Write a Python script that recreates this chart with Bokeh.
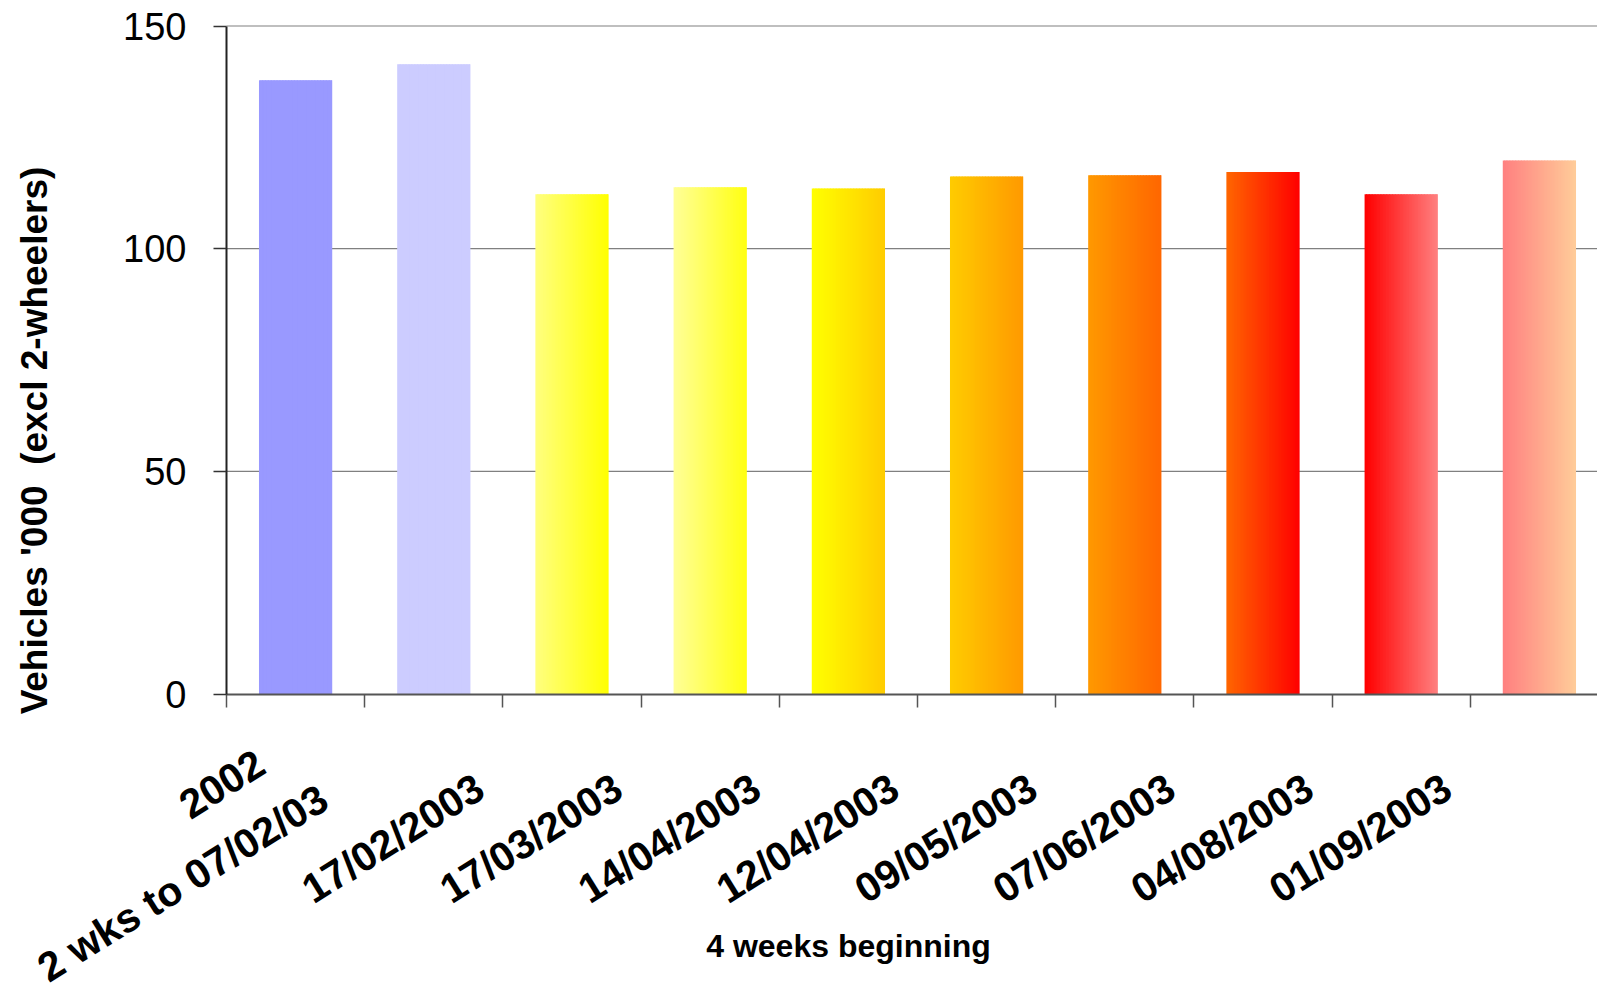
import math

from bokeh.core.properties import value
from bokeh.embed import file_html
from bokeh.models import ColumnDataSource, FixedTicker, LinearAxis, Range1d
from bokeh.plotting import figure
from bokeh.resources import INLINE

# ---- data -------------------------------------------------------------
categories = [
    "2002", "2 wks to 07/02/03", "17/02/2003", "17/03/2003", "14/04/2003",
    "12/04/2003", "09/05/2003", "07/06/2003", "04/08/2003", "01/09/2003",
]
vehicles = [137.8, 141.4, 112.2, 113.8, 113.5, 116.2, 116.5, 117.2, 112.2, 119.8]
y_ticks = [0, 50, 100, 150]

# ---- styling ----------------------------------------------------------
# horizontal gradient of each bar: colour at the left edge -> right edge
fill_left = ["#9999FF", "#CCCCFF", "#FFFF80", "#FFFF99", "#FFFF00",
             "#FFCC00", "#FF9900", "#FF6600", "#FF0000", "#FF8080"]
fill_right = ["#9999FF", "#CCCCFF", "#FFFF00", "#FFFF11", "#FFCC00",
              "#FF9900", "#FF6600", "#FF0000", "#FF8080", "#FFCC99"]
# screen offsets (px, right / down) of each rotated category label
label_dx = [-35, -110, -92, -92, -92, -92, -92, -92, -92, -92]
label_dy = [66, 101, 90, 90, 90, 90, 90, 90, 90, 90]

W, H = 1597, 993
PX_X = 138.2            # pixels per category
PX_Y = 668 / 150        # pixels per vehicle unit ('000)
ORIGIN = (226, 693.5)   # canvas position of the (0, 0) corner of the bars area
BAR_W = 0.53
STRIPS = 48
FONT = "Liberation Sans"


def hex_rgb(h):
    h = h.lstrip("#")
    return tuple(int(h[k:k + 2], 16) for k in (0, 2, 4))


def mix(c0, c1, t):
    a, b = hex_rgb(c0), hex_rgb(c1)
    return "#%02x%02x%02x" % tuple(round(a[k] + (b[k] - a[k]) * t) for k in range(3))


# thin vertical strips that build each bar's colour gradient
lefts, rights, tops, colors = [], [], [], []
for i, v in enumerate(vehicles):
    x0 = i + 0.5 - BAR_W / 2
    step = BAR_W / STRIPS
    for k in range(STRIPS):
        left = x0 + k * step
        right = min(left + step * 1.6, x0 + BAR_W)
        lefts.append(left)
        rights.append(right)
        tops.append(v)
        colors.append(mix(fill_left[i], fill_right[i], (k + 0.5) / STRIPS))

bars = ColumnDataSource(dict(left=lefts, right=rights, top=tops,
                             bottom=[0] * len(tops), color=colors))

# the frame covers the whole canvas; axes sit at fixed data locations
x_lo = -ORIGIN[0] / PX_X
y_lo = -(H - ORIGIN[1]) / PX_Y
p = figure(
    width=W, height=H,
    x_range=Range1d(x_lo, x_lo + W / PX_X),
    y_range=Range1d(y_lo, y_lo + H / PX_Y),
    output_backend="svg", toolbar_location=None,
    x_axis_location=None, y_axis_location=None,
    min_border=0,
)
p.outline_line_color = None
p.background_fill_color = "white"
p.border_fill_color = "white"
p.xgrid.visible = False
p.ygrid.visible = False

n = len(categories)

# horizontal gridlines
p.segment(x0=[0] * (len(y_ticks) - 1), x1=[n] * (len(y_ticks) - 1),
          y0=y_ticks[1:], y1=y_ticks[1:], line_color="#808080", line_width=1.2)

p.quad(left="left", right="right", top="top", bottom="bottom",
       fill_color="color", line_color=None, source=bars)

# value axis
yaxis = LinearAxis(fixed_location=0, bounds=(y_ticks[0], y_ticks[-1]))
yaxis.ticker = FixedTicker(ticks=y_ticks)
yaxis.minor_tick_line_color = None
yaxis.major_tick_in = 0
yaxis.major_tick_out = 13
yaxis.major_tick_line_color = "#333333"
yaxis.major_tick_line_width = 1.5
yaxis.axis_line_color = "#222222"
yaxis.axis_line_width = 2
yaxis.major_label_standoff = 27
yaxis.major_label_text_font = FONT
yaxis.major_label_text_font_size = "38px"
yaxis.major_label_text_color = "black"
p.add_layout(yaxis, "left")

# category axis: tick marks on the category boundaries, labels drawn separately
boundaries = list(range(n + 1))
xaxis = LinearAxis(fixed_location=0, bounds=(0, n))
xaxis.ticker = FixedTicker(ticks=boundaries)
xaxis.major_label_overrides = {b: "" for b in boundaries}
xaxis.minor_tick_line_color = None
xaxis.major_tick_in = 0
xaxis.major_tick_out = 13
xaxis.major_tick_line_color = "#555555"
xaxis.major_tick_line_width = 1.5
xaxis.axis_line_color = "#555555"
xaxis.axis_line_width = 2
p.add_layout(xaxis, "below")

labels = ColumnDataSource(dict(
    x=[i + 0.5 for i in range(n)],
    y=[0] * n,
    text=categories,
    dx=label_dx,
    dy=label_dy,
))
p.text(x="x", y="y", text="text", source=labels,
       x_offset="dx", y_offset="dy",
       angle=32, angle_units="deg",
       text_align="right", text_baseline="alphabetic",
       text_font=value(FONT), text_font_style="bold",
       text_font_size=value("41px"), text_color="black")

# axis titles
p.text(x=[(34 - ORIGIN[0]) / PX_X], y=[(ORIGIN[1] - 440) / PX_Y],
       text=["Vehicles '000 \u00a0(excl 2-wheelers)"],
       angle=math.pi / 2, text_align="center", text_baseline="middle",
       text_font=value(FONT), text_font_style="bold",
       text_font_size=value("37px"), text_color="black")
p.text(x=[(848 - ORIGIN[0]) / PX_X], y=[(ORIGIN[1] - 945) / PX_Y],
       text=["4 weeks beginning"],
       text_align="center", text_baseline="middle",
       text_font=value(FONT), text_font_style="bold",
       text_font_size=value("32px"), text_color="black")

open("out.html", "w").write(file_html(p, INLINE))
